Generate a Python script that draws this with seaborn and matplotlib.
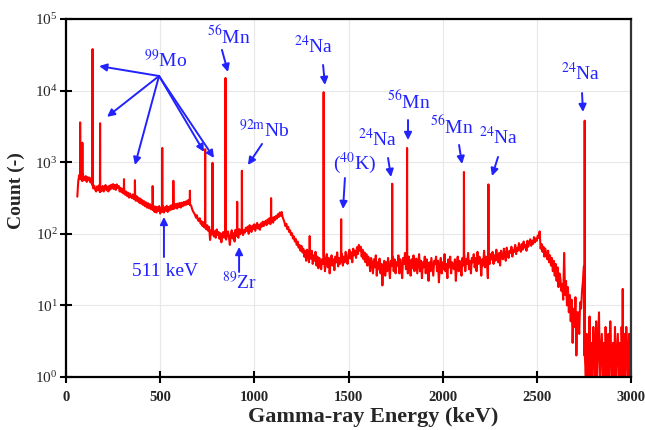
import numpy as np
import pandas as pd
import matplotlib
matplotlib.use("Agg")
import matplotlib.pyplot as plt
import seaborn as sns

# ---- spectrum data -------------------------------------------------------
# continuum counts on a 5 keV grid, 60 ... 3000 keV (one row = 100 keV)
channel_start = 60
channel_step = 5
continuum = [
    330, 540, 660, 580, 640, 550, 670, 590, 560, 640, 530, 620, 560, 610, 520, 590, 480, 430, 470, 410,  # 60
    390, 460, 410, 475, 385, 450, 400, 465, 390, 440, 480, 405, 455, 390, 470, 415, 485, 430, 495, 420,  # 160
    480, 410, 490, 435, 465, 390, 440, 380, 425, 365, 405, 350, 390, 335, 375, 320, 365, 330, 315, 355,  # 260
    305, 345, 290, 335, 285, 320, 270, 310, 262, 295, 252, 285, 242, 275, 232, 268, 228, 260, 220, 250,  # 360
    218, 245, 202, 240, 198, 236, 208, 244, 192, 230, 205, 242, 198, 234, 210, 246, 202, 238, 212, 248,  # 460
    218, 255, 222, 260, 230, 262, 225, 266, 236, 270, 232, 272, 242, 278, 250, 282, 255, 292, 262, 300,  # 560
    255, 245, 220, 205, 195, 185, 168, 182, 158, 150, 165, 138, 150, 128, 145, 122, 138, 115, 132, 110,  # 660
    125, 82, 112, 98, 120, 92, 108, 88, 115, 96, 106, 85, 102, 76, 96, 106, 88, 102, 83, 96,             # 760
    108, 90, 70, 98, 112, 86, 102, 78, 114, 93, 106, 88, 116, 98, 108, 120, 96, 112, 104, 122,           # 860
    110, 126, 100, 132, 114, 106, 130, 116, 136, 110, 126, 142, 118, 134, 114, 140, 126, 148, 128, 142,  # 960
    152, 132, 158, 140, 165, 136, 150, 168, 143, 172, 156, 178, 163, 188, 172, 198, 178, 202, 172, 158,  # 1060
    145, 128, 138, 116, 125, 106, 112, 96, 102, 86, 92, 78, 85, 70, 78, 64, 70, 58, 68, 55,              # 1160
    62, 48, 58, 42, 60, 50, 40, 55, 45, 58, 38, 50, 42, 56, 36, 48, 33, 46, 40, 32,                      # 1260
    44, 38, 48, 30, 45, 52, 34, 46, 28, 42, 50, 36, 44, 31, 48, 40, 55, 35, 46, 38,                      # 1360
    42, 52, 36, 48, 40, 56, 44, 38, 52, 60, 45, 55, 40, 62, 50, 58, 46, 65, 52, 70,                      # 1460
    58, 66, 48, 60, 44, 55, 40, 52, 36, 48, 42, 30, 46, 38, 28, 44, 34, 50, 26, 40,                      # 1560
    32, 45, 28, 38, 19, 35, 42, 26, 40, 30, 46, 34, 24, 42, 36, 48, 30, 44, 28, 40,                      # 1660
    36, 50, 28, 44, 34, 24, 46, 38, 54, 32, 42, 28, 48, 36, 26, 44, 33, 50, 30, 40,                      # 1760
    45, 28, 38, 52, 30, 42, 24, 40, 34, 48, 28, 44, 36, 22, 40, 30, 46, 34, 26, 42,                      # 1860
    38, 48, 30, 42, 21, 36, 46, 28, 40, 32, 52, 30, 38, 24, 44, 34, 48, 28, 40, 35,                      # 1960
    32, 44, 22, 38, 48, 30, 42, 34, 26, 46, 36, 50, 30, 44, 38, 54, 32, 42, 28, 46,                      # 2060
    40, 52, 34, 46, 30, 56, 38, 48, 42, 26, 44, 36, 58, 34, 48, 40, 24, 46, 38, 52,                      # 2160
    44, 56, 38, 50, 42, 60, 46, 40, 54, 36, 58, 48, 44, 62, 50, 42, 64, 52, 46, 58,                      # 2260
    54, 66, 48, 60, 56, 70, 52, 64, 58, 74, 62, 56, 72, 60, 78, 64, 70, 58, 80, 66,                      # 2360
    74, 84, 68, 80, 72, 90, 76, 86, 80, 95, 88, 108, 62, 72, 56, 66, 48, 62, 52, 44,                     # 2460
    58, 40, 50, 36, 46, 30, 42, 26, 38, 22, 34, 18, 28, 24, 16, 20, 12, 54, 14, 22,                      # 2560
    10, 18, 8, 14, 6, 12, 3, 9, 5, 13, 2, 8, 8, 4, 11, 9, 16, 22, 35, 2,                                 # 2660
    1, 4, 1, 2, 7, 1, 3, 1, 5, 2, 1, 6, 1, 3, 8, 1, 2, 4, 1, 3,                                          # 2760
    1, 5, 2, 1, 4, 1, 6, 2, 1, 3, 1, 5, 1, 2, 4, 1, 3, 1, 5, 2,                                          # 2860
    1, 4, 1, 5, 2, 1, 4, 1, 5,                                                                           # 2960
]

# full-energy peaks: centroid (keV) and peak-top counts
peak_energy = [75, 87, 141, 181, 308, 366, 460, 511, 570, 658, 739, 778,
               847, 909, 934, 1089, 1294, 1368, 1461, 1732, 1811, 2113,
               2243, 2754, 2956]
peak_counts = [3600, 1870, 38000, 3500, 580, 560, 465, 1580, 550, 400, 1520,
               980, 15000, 280, 760, 315, 93, 9500, 160, 500, 1580, 730,
               490, 3800, 17]

# ---- build the plotted trace ---------------------------------------------
channels = channel_start + channel_step * np.arange(len(continuum))
cont = np.asarray(continuum, dtype=float)

rows = [(e, c) for e, c in zip(channels, cont)]
for e, h in zip(peak_energy, peak_counts):
    base = cont[np.abs(channels - e).argmin()]
    rows += [(e - 1, base), (e, h), (e + 1, base)]
rows.sort(key=lambda r: r[0])
spec = pd.DataFrame(rows, columns=["energy", "counts"])

# ---- style ----------------------------------------------------------------
sns.set_theme(style="white")
plt.rcParams["font.family"] = ["Liberation Serif", "DejaVu Serif"]
plt.rcParams["mathtext.fontset"] = "stix"

BLUE = "#2222ff"
RED = "#ff0000"

fig = plt.figure(figsize=(6.45, 4.30), dpi=100)
ax = fig.add_axes([66 / 645, 1 - 377 / 430, 565 / 645, 358 / 430])
ax.set_yscale("log")

sns.lineplot(data=spec, x="energy", y="counts", ax=ax, color=RED,
             linewidth=1.5, estimator=None, sort=False)

ax.set_xlim(0, 3000)
ax.set_ylim(1, 1e5)
ax.set_xticks([0, 500, 1000, 1500, 2000, 2500, 3000])
ax.set_yticks([1, 10, 100, 1e3, 1e4, 1e5])
ax.minorticks_off()
ax.grid(True, color="#e8e8e8", linewidth=0.8)
ax.set_axisbelow(True)

for s in ax.spines.values():
    s.set_visible(True)
    s.set_color("black")
    s.set_linewidth(1.6)
ax.spines["right"].set_color("#333333")

ax.tick_params(axis="both", which="major", direction="inout", length=8,
               width=1.5, color="black", bottom=True, left=True,
               top=False, right=False)
ax.tick_params(axis="x", labelsize=10.5, pad=6)
ax.tick_params(axis="y", labelsize=11, pad=2)
for lab in ax.get_xticklabels():
    lab.set_fontweight("bold")

ax.set_xlabel("Gamma-ray Energy (keV)", fontsize=16, fontweight="bold")
ax.set_ylabel("Count (-)", fontsize=14, fontweight="bold")
ax.xaxis.set_label_coords(0.543, -0.085)
ax.yaxis.set_label_coords(-0.073, 0.52)

# ---- nuclide annotations ---------------------------------------------------
arrow = dict(arrowstyle="-|>", color=BLUE, lw=1.4, mutation_scale=11,
             shrinkA=0, shrinkB=0)
txt = dict(color=BLUE, fontsize=14, ha="center", va="center")

# 99Mo: one label, several arrows
ax.text(531, 2.67e4, r"$^{99}$Mo", **txt)
for tip in [(176, 2.2e4), (218, 4300), (366, 915), (733, 1390), (786, 1145)]:
    ax.annotate("", xy=tip, xytext=(494, 1.6e4), arrowprops=arrow)

labels = [
    # text, text position, arrow start, arrow tip
    (r"$^{56}$Mn", (865, 5.8e4), (828, 3.7e4), (860, 1.82e4)),
    (r"$^{24}$Na", (1315, 4.2e4), (1365, 2.28e4), (1375, 1.2e4)),
    (r"$^{92\mathrm{m}}$Nb", (1051, 2.82e3), (1041, 1.8e3), (966, 914)),
    (r"$^{24}$Na", (2735, 1.76e4), (2740, 9.25e3), (2745, 5.03e3)),
    (r"$^{56}$Mn", (1821, 7.16e3), (1816, 3.88e3), (1816, 2.04e3)),
    (r"$^{24}$Na", (1657, 2.11e3), (1710, 1.145e3), (1726, 621)),
    (r"($^{40}$K)", (1535, 975), (1481, 601), (1471, 222)),
    (r"$^{56}$Mn", (2050, 3.2e3), (2087, 1.74e3), (2103, 944)),
    (r"$^{24}$Na", (2299, 2.25e3), (2294, 1.183e3), (2262, 641)),
]
for label, tpos, start, tip in labels:
    ax.text(*tpos, label, **txt)
    ax.annotate("", xy=tip, xytext=start, arrowprops=arrow)

ax.text(526, 30.2, "511 keV", **txt)
ax.annotate("", xy=(520, 172), xytext=(520, 47.4), arrowprops=arrow)

ax.text(922, 21.5, r"$^{89}$Zr", **txt)
ax.annotate("", xy=(919, 65.5), xytext=(919, 29.3), arrowprops=arrow)

fig.savefig("out.png", dpi=100)
